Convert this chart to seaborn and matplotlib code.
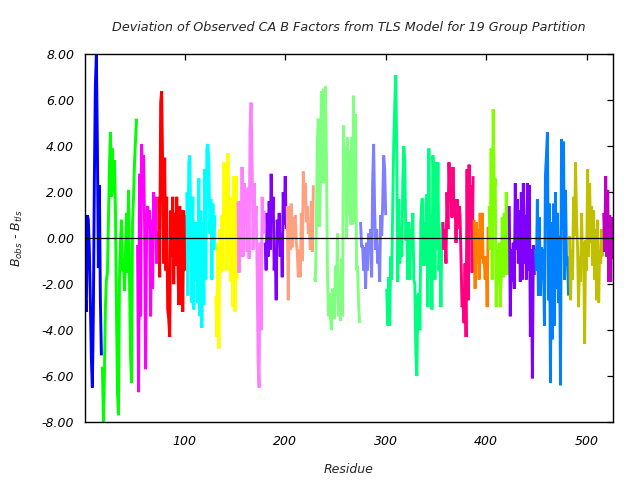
import matplotlib
matplotlib.use("Agg")
import matplotlib.pyplot as plt
import seaborn as sns
import pandas as pd

# ---- data: B_obs - B_tls per residue, one list per TLS group (consecutive residues from 1)
g01 = [-2.5, -3.2, 1.0, 0.8, -0.5, -2.7, -5.2, -6.5, -3.3, 2.5, 6.6, 8.0, 4.1, -1.3, 2.3, -2.7, -5.1]
g02 = [-5.6, -8.0, -6.0, -3.0, -1.8, -1.5, 0.7, 3.1, 4.6, 1.8, 3.9, 2.0, 3.4, 1.2, -3.1, -6.7, -7.7, -1.8,
       -0.2, 0.8, -1.4, -0.9, -2.3, -0.6, 1.1, -1.5, 2.1, -1.8, -5.1, -6.3, 0.7, 1.8, 3.3, 4.3, 5.2]
g03 = [-0.3, -6.7, 2.8, -3.4, 4.1, 2.5, 3.6, 0.5, -5.7, 0.2, 1.4, 0.4, 1.2, -3.4, 0.8, -2.2, 2.0, 0.4, 1.8, -1.1, 0.3]
g04 = [1.8, -1.7, 5.9, 6.4, 3.1, -1.1, 3.5, -1.4, 1.8, -3.1, -3.5, -4.3, 1.2, -0.8, 1.8, -2.0, 1.1, -1.2,
       1.8, -0.8, -2.9, 1.4, -2.9, 1.2, -3.2, 1.2, -1.4, 1.0]
g05 = [2.0, -2.5, 3.3, 3.6, 0.5, -2.8, 1.8, -3.1, 0.7, -1.9, 0.7, -2.8, 2.6, -3.4, 1.2, -3.9, 0.7, -2.9,
       3.0, -1.8, 3.9, 4.1, 3.3, 0.2, 1.7, -1.8, 1.5, -0.5, 1.0]
g06 = [-2.5, -4.3, -0.2, -4.8, 0.4, -1.5, 1.0, -1.4, 3.3, 1.2, 2.4, -1.4, 3.7, -0.8, 1.8, -1.9, 1.5, -3.0,
       2.7, -3.2, 2.7, -1.8]
g07 = [1.6, -1.5, 1.6, -0.8, 3.1, -0.8, 2.4, 0.6, 2.0, -0.6, 2.2, -0.9, 4.7, 5.9, 3.4, -0.5, 2.4, 0.4,
       1.4, -1.2, -5.4, -6.5, -0.2, -4.0, 1.8, 0.2, 1.2]
g08 = [-0.2, -1.4, 1.1, -0.8, 1.6, -0.5, 2.8, 0.7, 1.8, -1.4, -0.5, -2.7, 0.8, 0.0, 1.1, -0.8, 0.2, -1.7,
       2.0, 0.6, 2.7, 0.4]
g09 = [1.4, -2.7, 1.4, -0.5, 1.5, -0.4, 0.9, 0.0, 1.0, -0.2, -0.6, -1.7, -0.5, -1.7, 1.1, -1.0, 2.9, 1.7,
       2.4, 0.7, 1.4, 0.2, 0.5, -0.5, 1.6, -0.6, 2.3]
g10 = [-1.7, -1.9, 0.6, 4.3, 5.2, 0.5, 2.4, 6.4, 2.4, 6.5, 2.4, 6.6, 3.5, -1.4, -3.4, -2.4, -3.4, -4.0,
       -2.2, -2.4, -3.5, -1.2, -2.5, 0.2, -3.4, -1.9, -3.6, -0.9, -3.4, 4.9, 2.4, 4.0, 0.0, 4.4, 1.0, 3.8,
       0.6, 4.4, 0.6, 6.2, 0.7, 5.4, -1.4, -1.2, -2.8, -3.7]
g11 = [0.7, -0.4, -0.3, -1.4, -0.4, -2.2, -0.2, -1.4, 0.2, -0.5, 0.4, -1.7, 2.4, 4.1, 1.2, -0.5, 0.4,
       -1.1, -0.5, -1.9, 1.0, 0.1, 1.5, 3.6, 3.0, 1.0]
g12 = [-2.2, -3.8, -1.7, -3.8, -0.8, -1.8, 1.4, 4.1, 5.8, 7.1, 3.9, -1.9, 1.7, -1.1, 0.5, -0.8, 2.4, 4.0,
       3.4, -0.1, 0.7, -1.8, 0.7, -1.8, 0.4, -0.5, 1.1, -1.8, -2.0, -5.0, -6.0, -2.5, -2.4, -4.0, 0.7, 1.7,
       1.7, -1.2, 0.7, -1.1, 1.9, -3.0, 3.9, -1.7, 1.0, -3.1, 3.6, 2.5, -1.8, 3.3, -0.5, 3.3, -1.4, -0.3,
       -3.0, 0.7]
g13 = [0.7, -0.5, 0.4, -1.1, 2.0, 0.4, 3.3, 1.7, 2.1, 0.9, 3.1, 1.0, 1.7, -0.2, 1.7, 0.4, 1.4, 1.0, -0.9,
       -3.0, -2.8, -3.7, -1.1, -4.3, 3.0, -2.7, 3.2, 1.2, 2.3, -1.5, 2.7]
g14 = [0.8, -2.2, 0.7, -1.1, 0.4, -1.8, 1.1, -0.9, 1.1, -1.1, -0.8, -1.8, -0.8, -3.0, 0.5]
g15 = [1.4, -0.5, 3.9, -1.8, 5.6, 2.0, 2.6, -3.0, -0.5, -2.0, -0.2, -3.0, -1.7, 0.9, -1.7, 1.1, -1.6,
       2.0, 0.4, -1.6]
g16 = [1.4, -3.4, -0.5, -1.9, -0.2, -2.2, 2.4, -0.5, 1.7, -1.1, 1.2, -1.9, 2.0, -1.8, 2.4, -1.1, 1.0,
       -1.8, 2.4, -1.4, 2.3, -4.3, -0.5, -6.1, -0.3, -1.6]
g17 = [-0.5, -1.4, 1.7, -2.5, 0.9, -2.5, -0.4, -1.8, -0.5, -3.8, 2.7, 3.6, 4.6, -2.7, 1.5, -6.3, 0.7,
       -4.4, 1.5, -3.8, 2.0, -2.2, 1.1, -2.8, 0.1, -6.4, 4.3, 0.4, 4.2, -1.8, 2.1, -1.2, -0.8, -2.5]
g18 = [0.1, -2.7, -0.5, -1.8, 1.8, 0.1, 3.3, 0.7, -0.4, -3.0, -0.8, -1.9, 1.1, -1.2, -0.2, -4.6, -0.1,
       -1.4, 3.0, -0.8, 2.4, -0.2, 1.4, -1.2, 1.2, -1.8, 0.4, -2.7, 0.8, -2.8, -0.5, -1.1, 0.4, -0.8]
g19 = [1.1, -0.6, 2.7, -0.8, 2.1, -1.9, 1.0, -1.9, 0.9, -0.9]

groups = [g01, g02, g03, g04, g05, g06, g07, g08, g09, g10,
          g11, g12, g13, g14, g15, g16, g17, g18, g19]
group_colors = ["#0000ff", "#00ff00", "#ff00ff", "#ff0000", "#00ffff", "#ffff00", "#ff80ff",
                "#8000ff", "#ffa080", "#80ff80", "#8080ff", "#00ff80", "#ff0080", "#ff8000",
                "#80ff00", "#8000ff", "#0080ff", "#c0c000", "#c000c0"]
x_ticks = [100, 200, 300, 400, 500]
y_ticks = [-8, -6, -4, -2, 0, 2, 4, 6, 8]

rows = []
res = 1
for gi, vals in enumerate(groups):
    for v in vals:
        rows.append({"residue": res, "value": v, "group": f"G{gi + 1}"})
        res += 1
df = pd.DataFrame(rows)
palette = {f"G{i + 1}": c for i, c in enumerate(group_colors)}

sns.set_theme(style="white")
plt.rcParams["font.family"] = ["DejaVu Sans"]
plt.rcParams["axes.unicode_minus"] = False
plt.rcParams["mathtext.fontset"] = "dejavusans"

fig = plt.figure(figsize=(6.4, 4.8), dpi=100)
ax = fig.add_axes([0.1333, 0.1208, 0.8241, 0.766])

sns.lineplot(data=df, x="residue", y="value", hue="group", palette=palette,
             estimator=None, sort=False, legend=False, lw=2.1, ax=ax)
for ln in ax.get_lines():
    ln.set_solid_capstyle("butt")
    ln.set_solid_joinstyle("bevel")
ax.axhline(0, color="black", lw=0.9, zorder=5)

ax.set_xlim(1, 526)
ax.set_ylim(-8, 8)
ax.set_xticks(x_ticks)
ax.set_yticks(y_ticks)
ax.set_xticklabels([str(t) for t in x_ticks], style="italic", fontsize=9)
ax.set_yticklabels([f"{t:.2f}" for t in y_ticks], style="italic", fontsize=9)
ax.tick_params(direction="in", length=4, width=0.9, top=True, right=True, color="black",
               labelcolor="black")
ax.tick_params(axis="x", pad=9)
ax.tick_params(axis="y", pad=8)
for s in ax.spines.values():
    s.set_visible(True)
    s.set_color("black")
    s.set_linewidth(1.0)

ax.set_xlabel("Residue", style="italic", fontsize=9, labelpad=11)
ax.set_ylabel(r"$B_{obs}$ - $B_{tls}$", fontsize=9, style="italic", labelpad=12)
ax.set_title("Deviation of Observed CA B Factors from TLS Model for 19 Group Partition",
             style="italic", fontsize=9.2, pad=17)

fig.savefig("out.png", dpi=100)
